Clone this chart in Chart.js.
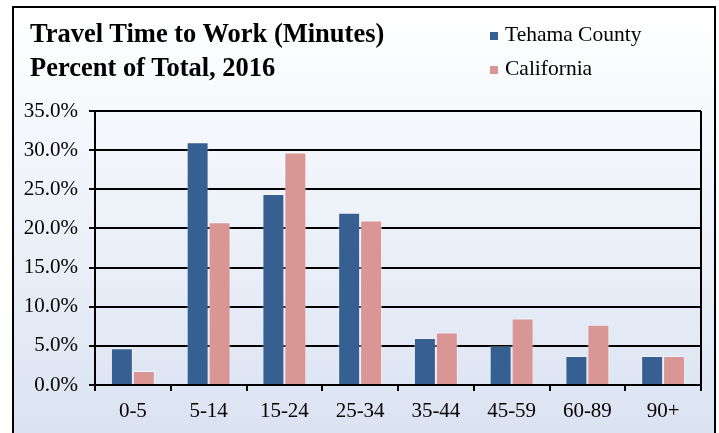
<!DOCTYPE html>
<html>
<head>
<meta charset="utf-8">
<script src="https://cdn.jsdelivr.net/npm/chart.js@4/dist/chart.umd.min.js"></script>
<style>
  html, body { margin: 0; padding: 0; background: #ffffff; }
  #wrap { position: relative; width: 719px; height: 433px; overflow: hidden; background: #ffffff; }
  #frame { position: absolute; left: 12px; top: 6px; width: 700px; height: 440px;
           border: 2px solid #000; background: linear-gradient(#ffffff 0%, #dbe3f2 96%); }
  #c { position: absolute; left: 0; top: 0; }
  #title { position: absolute; left: 30px; top: 16px; font-family: "Liberation Serif", "Times New Roman", serif;
           font-weight: bold; font-size: 26.5px; line-height: 34px; color: #000; white-space: nowrap; }
  .lg { position: absolute; left: 490px; font-family: "Liberation Serif", "Times New Roman", serif;
        font-size: 21.5px; line-height: 34px; color: #000; white-space: nowrap; }
  .lg .sw { display: inline-block; width: 8px; height: 8px; margin-right: 7px; vertical-align: 1px; }
</style>
</head>
<body>
<div id="wrap">
  <div id="frame"></div>
  <canvas id="c" width="719" height="433"></canvas>
  <div id="title">Travel Time to Work (Minutes)<br>Percent of Total, 2016</div>
  <div id="legend"></div>
</div>
<script>
const categories = ["0-5", "5-14", "15-24", "25-34", "35-44", "45-59", "60-89", "90+"];
const tehamaCounty = [4.7, 31.0, 24.4, 22.0, 6.0, 5.0, 3.7, 3.7];
const california = [1.8, 20.8, 29.7, 21.0, 6.7, 8.5, 7.7, 3.7];
const seriesNames = ["Tehama County", "California"];
const seriesColors = ["#376092", "#d99694"];
const yTicks = { min: 0, max: 35, step: 5 };

const serif = "'Liberation Serif', 'Times New Roman', serif";

const frameBorder = {
  id: 'frameBorder',
  afterDatasetsDraw(chart) {
    const { ctx, chartArea: a } = chart;
    ctx.save();
    ctx.strokeStyle = '#000';
    ctx.lineWidth = 2;
    ctx.beginPath();
    ctx.moveTo(a.right, a.top);
    ctx.lineTo(a.right, a.bottom);
    ctx.stroke();
    ctx.restore();
  }
};

const chart = new Chart(document.getElementById('c'), {
  type: 'bar',
  data: {
    labels: categories,
    datasets: [
      { label: seriesNames[0], data: tehamaCounty, backgroundColor: seriesColors[0],
        borderColor: 'rgba(255,255,255,0.35)', borderWidth: 1 },
      { label: seriesNames[1], data: california, backgroundColor: seriesColors[1],
        borderColor: 'rgba(255,255,255,0.45)', borderWidth: 1 }
    ]
  },
  options: {
    responsive: false,
    animation: false,
    devicePixelRatio: 1,
    layout: { padding: { top: 111, right: 18, left: 0, bottom: 0 } },
    datasets: { bar: { categoryPercentage: 0.58, barPercentage: 1.0 } },
    plugins: { legend: { display: false }, title: { display: false }, tooltip: { enabled: false } },
    scales: {
      x: {
        offset: true,
        grid: { offset: true, drawOnChartArea: false, drawTicks: true, tickLength: 6, color: '#000', lineWidth: 2 },
        border: { display: true, color: '#000', width: 2 },
        ticks: { color: '#000', font: { family: serif, size: 21 }, padding: 8, maxRotation: 0 },
        afterFit(s) { s.height = 48; }
      },
      y: {
        min: yTicks.min, max: yTicks.max,
        grid: { color: '#000', lineWidth: 2, tickLength: 6 },
        border: { display: true, color: '#000', width: 2 },
        ticks: { stepSize: yTicks.step, color: '#000', font: { family: serif, size: 21 }, padding: 11,
                 callback: v => v.toFixed(1) + '%' },
        afterFit(s) { s.width = 95; }
      }
    }
  },
  plugins: [frameBorder]
});

// legend built from the chart's datasets
const legend = document.getElementById('legend');
chart.data.datasets.forEach((ds, i) => {
  const d = document.createElement('div');
  d.className = 'lg';
  d.style.top = (17 + i * 34) + 'px';
  const sw = document.createElement('span');
  sw.className = 'sw';
  sw.style.background = ds.backgroundColor;
  d.appendChild(sw);
  d.appendChild(document.createTextNode(ds.label));
  legend.appendChild(d);
});
</script>
</body>
</html>
